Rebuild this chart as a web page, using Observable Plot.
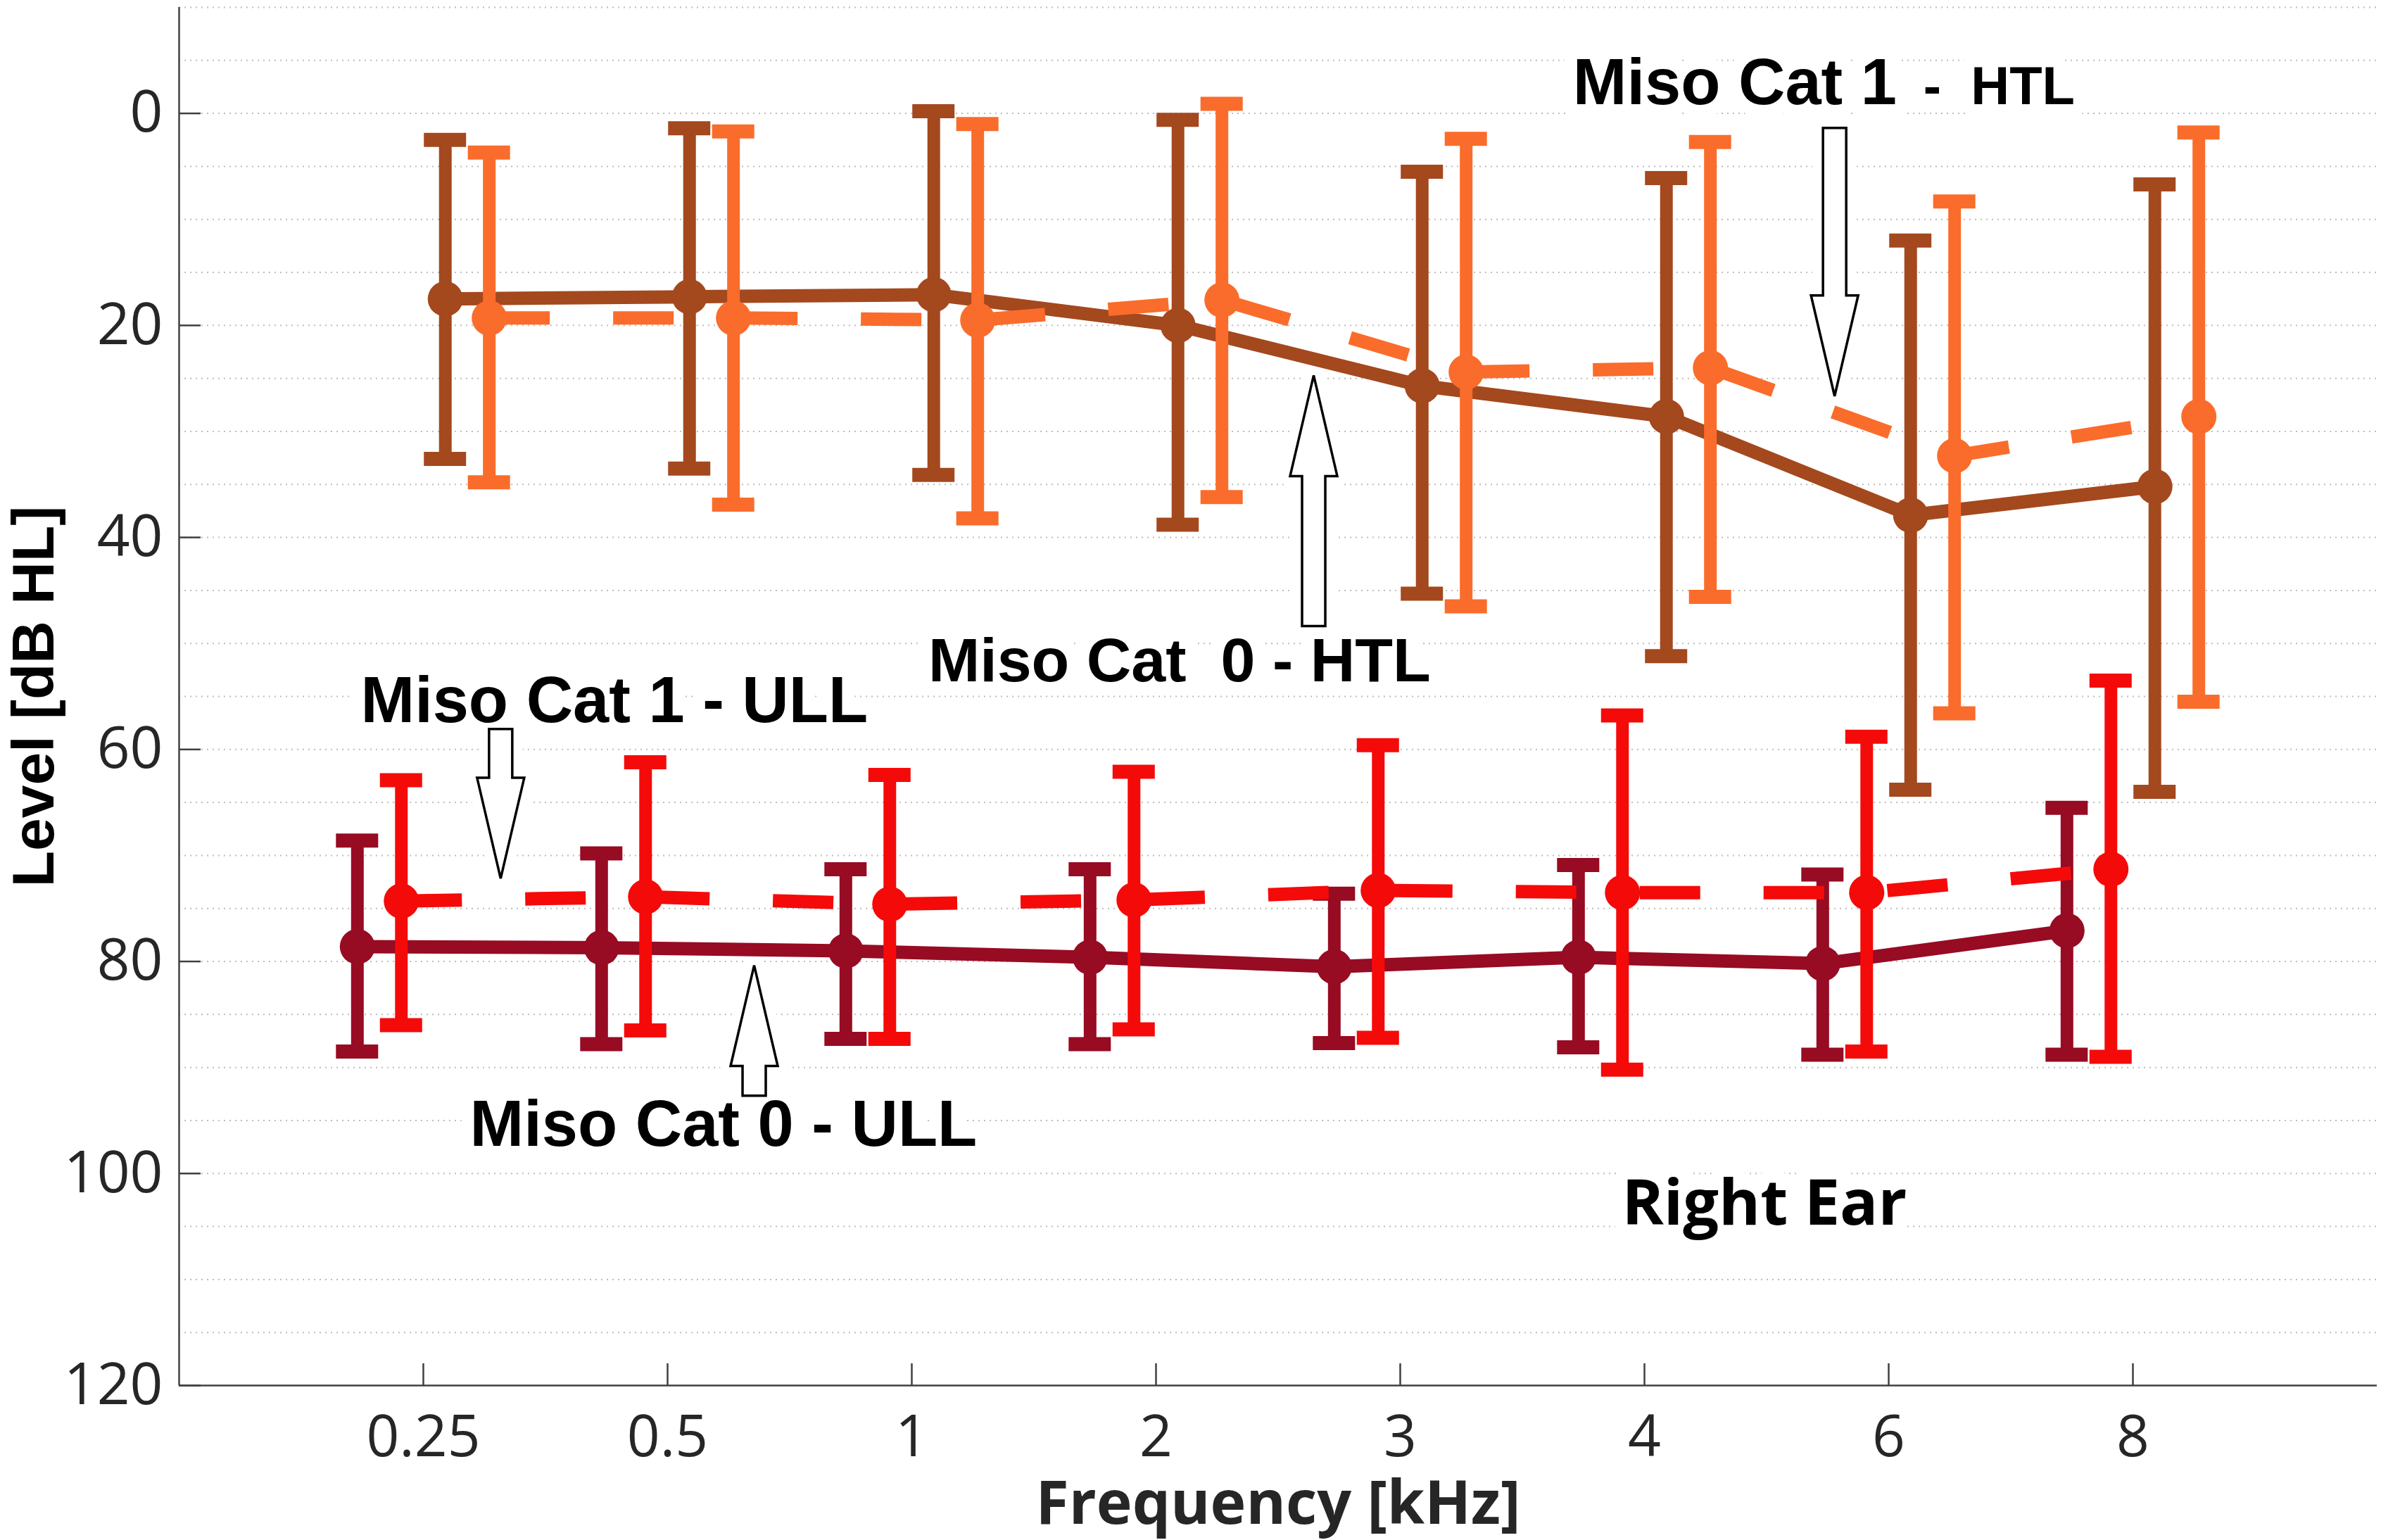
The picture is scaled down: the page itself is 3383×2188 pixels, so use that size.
<!DOCTYPE html>
<html><head><meta charset="utf-8">
<script src="https://cdn.jsdelivr.net/npm/d3@7"></script>
<script src="https://cdn.jsdelivr.net/npm/@observablehq/plot@0.6"></script>
<style>html,body{margin:0;padding:0;background:#fff;} #chart svg{display:block;}</style>
</head><body><div id="chart"></div>
<script>
// ---- data (dB HL) ----
const frequencies = ["0.25", "0.5", "1", "2", "3", "4", "6", "8"];
const freqIndex = [1, 2, 3, 4, 5, 6, 7, 8];

const htlCat0Mean = [17.5, 17.3, 17.1, 20.0, 25.7, 28.6, 37.9, 35.2];
const htlCat0Low  = [2.5, 1.4, -0.2, 0.6, 5.5, 6.1, 12.0, 6.7];
const htlCat0High = [32.6, 33.5, 34.1, 38.8, 45.3, 51.2, 63.8, 64.0];

const htlCat1Mean = [19.3, 19.3, 19.5, 17.6, 24.4, 24.0, 32.3, 28.6];
const htlCat1Low  = [3.7, 1.7, 1.0, -0.9, 2.4, 2.7, 8.3, 1.8];
const htlCat1High = [34.8, 36.9, 38.2, 36.2, 46.5, 45.6, 56.6, 55.5];

const ullCat0Mean = [78.6, 78.7, 79.0, 79.6, 80.5, 79.6, 80.2, 77.1];
const ullCat0Low  = [68.6, 69.8, 71.3, 71.3, 73.6, 70.9, 71.8, 65.5];
const ullCat0High = [88.5, 87.8, 87.3, 87.8, 87.7, 88.1, 88.8, 88.8];

const ullCat1Mean = [74.3, 73.9, 74.6, 74.2, 73.3, 73.5, 73.5, 71.3];
const ullCat1Low  = [62.9, 61.2, 62.4, 62.1, 59.6, 56.8, 58.8, 53.5];
const ullCat1High = [86.0, 86.5, 87.3, 86.4, 87.2, 90.2, 88.5, 89.0];

const yTicks = [0, 20, 40, 60, 80, 100, 120];
const yGrid = [-10, -5, 0, 5, 10, 15, 20, 25, 30, 35, 40, 45, 50, 55, 60, 65, 70, 75, 80, 85, 90, 95, 100, 105, 110, 115];

// annotation labels and their anchors (in data units: frequency index, dB HL)
const notes = [
  {text: "Miso Cat 1 - ULL", x: 1.782, y: 57.4},
  {text: "Miso Cat 0 - ULL", x: 2.229, y: 97.4}
];
const noteHtl0 = [{text: "Miso Cat  0 - HTL", x: 4.096, y: 53.6}];
const noteHtl1a = [{text: "Miso Cat 1", x: 5.707, y: -0.9}];
const noteHtl1b = [{text: "-  HTL", x: 7.142, y: -0.9}];
const noteEar = [{text: "Right Ear", x: 6.491, y: 104.8}];
const arrows = [
  {x: 6.78, tail: 1.4, tip: 26.7},
  {x: 4.647, tail: 48.4, tip: 24.75},
  {x: 1.318, tail: 58.1, tip: 72.2},
  {x: 2.356, tail: 92.7, tip: 80.4}
];

// ---- styling ----
const W = 3383, H = 2188;
const mL = 254, mR = 6, mT = 10, mB = 220;
const innerW = W - mL - mR, innerH = H - mT - mB;
const axisColor = "#404040";

const series = [
  {key: "htl0", mean: htlCat0Mean, lo: htlCat0Low, hi: htlCat0High, color: "#A4481E", dash: null, offset: 0.09},
  {key: "htl1", mean: htlCat1Mean, lo: htlCat1Low, hi: htlCat1High, color: "#FA6C2B", dash: "86,90", offset: 0.27},
  {key: "ull0", mean: ullCat0Mean, lo: ullCat0Low, hi: ullCat0High, color: "#970B23", dash: null, offset: -0.27},
  {key: "ull1", mean: ullCat1Mean, lo: ullCat1Low, hi: ullCat1High, color: "#F50A0A", dash: "86,90", offset: -0.09}
];

function rowsOf(s) {
  return freqIndex.map((f, i) => ({x: f + s.offset, mean: s.mean[i], lo: s.lo[i], hi: s.hi[i]}));
}

function arrowPath(a, scales) {
  const X = scales.x(a.x), T = scales.y(a.tail), P = scales.y(a.tip);
  const s = Math.sign(P - T);
  const hb = P - s * 143;
  const sw = 16.5, hw = 33.5;
  const pts = [[X - sw, T], [X + sw, T], [X + sw, hb], [X + hw, hb], [X, P], [X - hw, hb], [X - sw, hb]];
  return "M" + pts.map(p => p.join(",")).join("L") + "Z";
}
function arrowHalo(index, scales) {
  const g = d3.create("svg:g");
  for (const a of arrows) {
    g.append("path").attr("d", arrowPath(a, scales)).attr("fill", "white")
      .attr("stroke", "white").attr("stroke-width", 30).attr("stroke-linejoin", "round");
  }
  return g.node();
}
function arrowOutline(index, scales) {
  const g = d3.create("svg:g");
  for (const a of arrows) {
    g.append("path").attr("d", arrowPath(a, scales)).attr("fill", "white")
      .attr("stroke", "black").attr("stroke-width", 3.5).attr("stroke-linejoin", "miter");
  }
  return g.node();
}

const dataMarks = [];
for (const s of series) {
  const rows = rowsOf(s);
  dataMarks.push(
    Plot.line(rows, {x: "x", y: "mean", stroke: s.color, strokeWidth: 19,
      strokeDasharray: s.dash || undefined, strokeLinecap: s.dash ? "butt" : "round", strokeLinejoin: "round"}),
    Plot.ruleX(rows, {x: "x", y1: "lo", y2: "hi", stroke: s.color, strokeWidth: 18}),
    Plot.ruleY(rows, {y: "lo", x1: "x", x2: "x", insetLeft: -30, insetRight: -30, stroke: s.color, strokeWidth: 20}),
    Plot.ruleY(rows, {y: "hi", x1: "x", x2: "x", insetLeft: -30, insetRight: -30, stroke: s.color, strokeWidth: 20}),
    Plot.dot(rows, {x: "x", y: "mean", r: 25, fill: s.color, stroke: null})
  );
}

const noteStyle = {x: "x", y: "y", text: "text", fill: "black", fontWeight: "bold",
  fontFamily: "Liberation Sans", lineAnchor: "bottom", stroke: "white", strokeWidth: 36, strokeLinejoin: "round"};

const chart = Plot.plot({
  width: W, height: H,
  marginLeft: mL, marginRight: mR, marginTop: mT, marginBottom: mB,
  style: {fontFamily: "Open Sans", fontSize: "82px", color: "#262626", background: "white"},
  x: {domain: [0, 9]},
  y: {domain: [-10, 120], reverse: true},
  marks: [
    Plot.ruleY(yGrid, {y: d => d, stroke: "#bdbdbd", strokeWidth: 2, strokeDasharray: "2,6"}),
    arrowHalo,
    Plot.text(notes, {...noteStyle, textAnchor: "middle", fontSize: 92}),
    Plot.text(noteHtl0, {...noteStyle, textAnchor: "middle", fontSize: 88}),
    Plot.text(noteHtl1a, {...noteStyle, textAnchor: "start", fontSize: 92}),
    Plot.text(noteHtl1b, {...noteStyle, textAnchor: "start", fontSize: 76}),
    Plot.text(noteEar, {...noteStyle, textAnchor: "middle", fontSize: 90, fontFamily: "Open Sans"}),
    ...dataMarks,
    arrowOutline,
    Plot.ruleX([0], {x: d => d, stroke: axisColor, strokeWidth: 2.5}),
    Plot.ruleY([120], {y: d => d, stroke: axisColor, strokeWidth: 2.5}),
    Plot.ruleX(freqIndex, {x: d => d, insetTop: innerH - 31, stroke: axisColor, strokeWidth: 2.5}),
    Plot.ruleY(yTicks, {y: d => d, insetRight: innerW - 31, stroke: axisColor, strokeWidth: 2.5}),
    Plot.axisX({ticks: freqIndex, tickFormat: i => frequencies[i - 1], tickSize: 0, tickPadding: 42, label: null, fontSize: 82}),
    Plot.axisY({ticks: yTicks, tickSize: 0, tickPadding: 23, label: null, fontSize: 82}),
    Plot.text(["Level [dB HL]"], {text: d => d, frameAnchor: "left", dx: -179, rotate: -90,
      lineAnchor: "bottom", textAnchor: "middle", fontSize: 84, fontWeight: "bold", fontFamily: "Liberation Sans", fill: "black"}),
    Plot.text(["Frequency [kHz]"], {text: d => d, frameAnchor: "bottom", dy: 196,
      lineAnchor: "bottom", textAnchor: "middle", fontSize: 86, fontWeight: "bold", fontFamily: "Open Sans", fill: "#262626"})
  ]
});
document.getElementById("chart").appendChild(chart);
</script>
</body></html>
